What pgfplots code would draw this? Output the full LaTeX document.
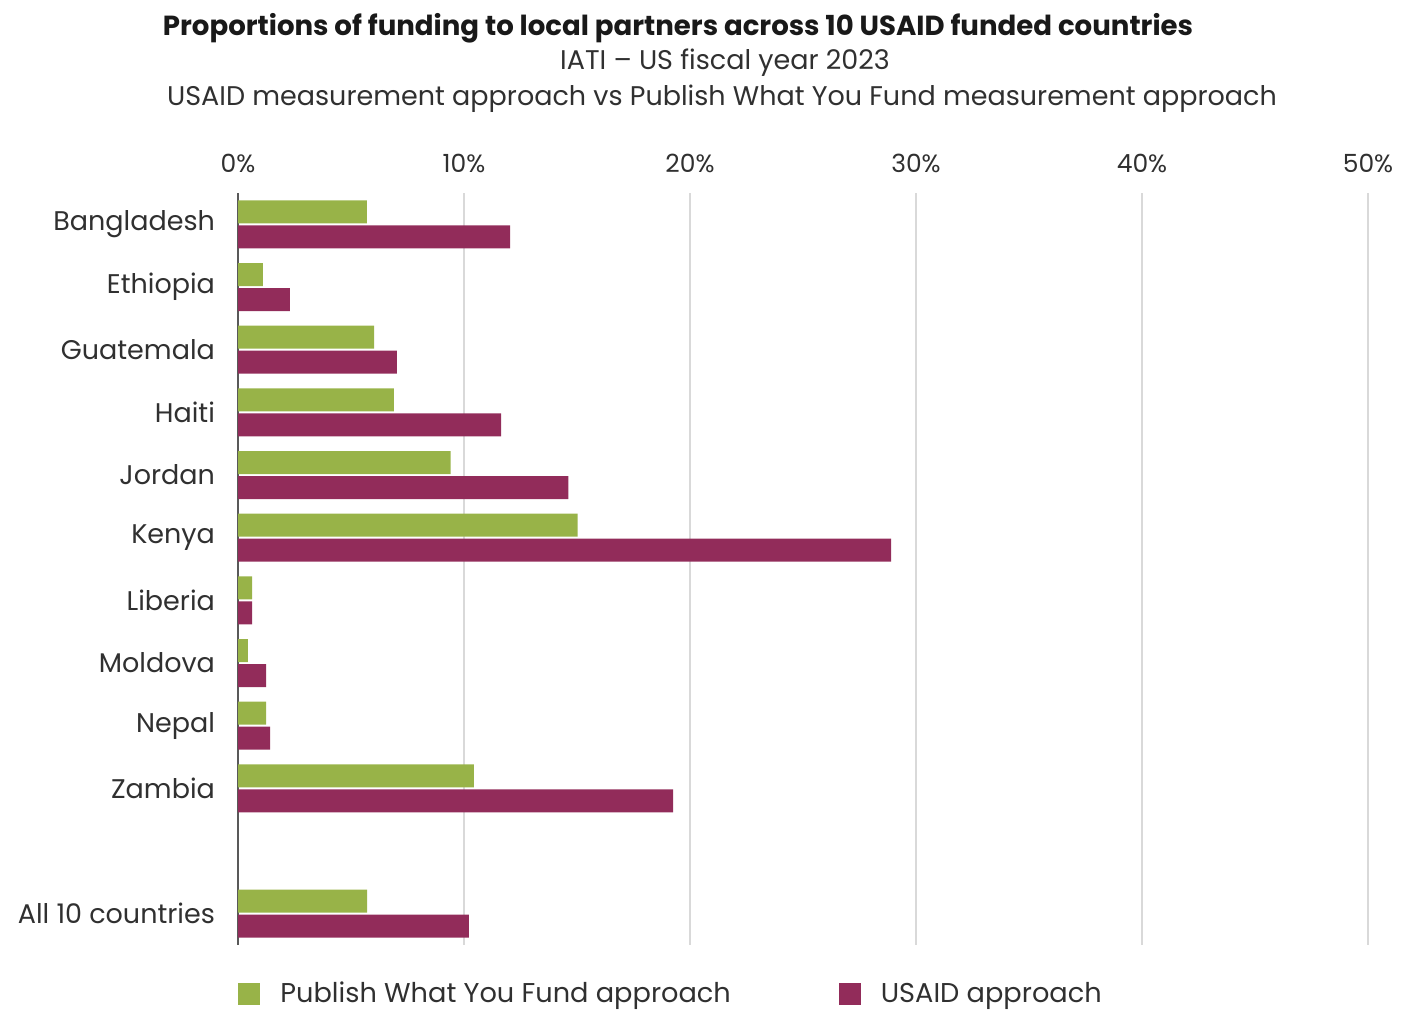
\documentclass[border=0pt]{standalone}
\usepackage{pgfplots}
\pgfplotsset{compat=1.18}
\usepackage{pgfplotstable}
\usepackage{fontspec}
\setmainfont{Poppins}
\definecolor{pgreen}{HTML}{98B348}
\definecolor{ppurple}{HTML}{922C5A}
\definecolor{txt}{HTML}{303030}
\definecolor{gridc}{HTML}{D9D9D9}

\pgfplotstableread{
pos pwyf usaid
0 5.70 12.04
1 1.10 2.30
2 6.02 7.03
3 6.90 11.64
4 9.41 14.62
5 15.03 28.90
6 0.62 0.62
7 0.44 1.24
8 1.24 1.42
9 10.44 19.25
11 5.71 10.22
}\datatable

\begin{document}
\begin{tikzpicture}
\path[use as bounding box] (0pt,0pt) rectangle (705.5pt,504.5pt);
\node[font=\bfseries\fontsize{13.8}{15}\selectfont, text=black!90] at (339pt,490.5pt) {Proportions of funding to local partners across 10 USAID funded countries};
\node[font=\fontsize{13.5}{15}\selectfont, text=txt] at (362.5pt,473pt) {IATI -- US fiscal year 2023};
\node[font=\fontsize{13.5}{15}\selectfont, text=txt] at (361pt,455pt) {USAID measurement approach vs Publish What You Fund measurement approach};
\begin{axis}[
  at={(119pt,32pt)}, anchor=south west,
  scale only axis, width=565pt, height=376pt,
  xbar, bar width=11.5pt,
  xmin=0, xmax=50, ymin=-0.5, ymax=11.5, y dir=reverse,
  xtick={0,10,...,50}, xticklabel pos=top,
  xticklabel={\pgfmathprintnumber{\tick}\%},
  /pgf/number format/assume math mode=true,
  ytick={0,1,2,3,4,5,6,7,8,9,11},
  yticklabels={Bangladesh,Ethiopia,Guatemala,Haiti,Jordan,Kenya,Liberia,Moldova,Nepal,Zambia,All 10 countries},
  xmajorgrids, grid style={gridc, line width=0.65pt},
  extra x ticks={0}, extra x tick labels={},
  extra x tick style={grid style={black!65, line width=0.9pt}},
  axis line style={draw=none}, major tick length=0pt,
  xticklabel style={font=\fontsize{12.5}{14}\selectfont, text=txt, yshift=6.5pt},
  yticklabel style={font=\fontsize{13.5}{15}\selectfont, text=txt, xshift=-8pt},
  legend style={at={(0,0)}, anchor=west, yshift=-24.3pt, draw=none, fill=none,
    font=\fontsize{13.6}{15}\selectfont, text=txt, inner sep=0pt,
    nodes={inner sep=1pt},
    /tikz/every odd column/.append style={column sep=9pt},
    /tikz/every even column/.append style={column sep=53pt}},
  legend columns=2, legend cell align=left,
  legend image code/.code={\fill[#1] (0pt,-5.5pt) rectangle (11pt,5.5pt);},
]
\addplot[draw=none, fill=pgreen, bar shift=6.25pt] table[x=pwyf, y=pos] {\datatable};
\addplot[draw=none, fill=ppurple, bar shift=-6.25pt] table[x=usaid, y=pos] {\datatable};
\legend{Publish What You Fund approach, USAID approach}
\end{axis}
\end{tikzpicture}
\end{document}
